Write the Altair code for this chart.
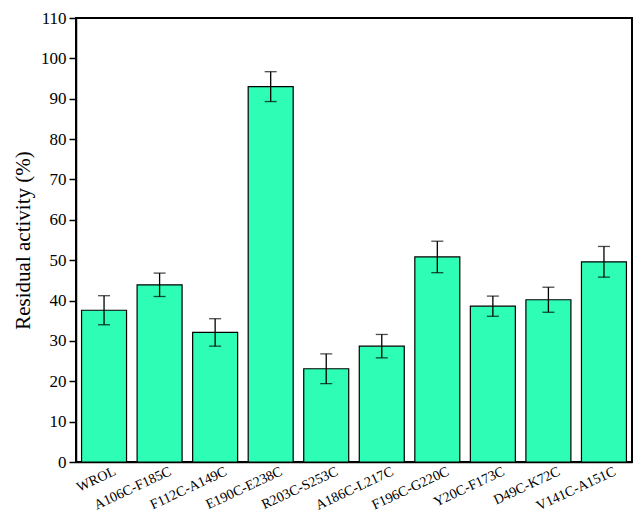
import altair as alt
import pandas as pd

categories = ["WROL", "A106C-F185C", "F112C-A149C", "E190C-E238C", "R203C-S253C",
              "A186C-L217C", "F196C-G220C", "Y20C-F173C", "D49C-K72C", "V141C-A151C"]
values = [37.6, 43.9, 32.1, 93.0, 23.1, 28.7, 50.8, 38.6, 40.2, 49.6]
errors = [3.6, 2.9, 3.4, 3.7, 3.7, 2.9, 3.9, 2.5, 3.1, 3.8]

df = pd.DataFrame({"cat": categories, "val": values, "err": errors})
df["lo"] = df["val"] - df["err"]
df["hi"] = df["val"] + df["err"]

FONT = "Liberation Serif"

x_scale = alt.Scale(paddingInner=0.19, paddingOuter=0.1)
y_scale = alt.Scale(domain=[0, 110], nice=False)

x_enc = alt.X("cat:N", sort=categories, scale=x_scale,
              axis=alt.Axis(title=None, labelAngle=-25, labelAlign="right",
                            labelBaseline="top", labelFont=FONT, labelFontSize=14,
                            labelColor="black", ticks=False, labelOffset=8,
                            labelPadding=2, domainColor="black", domainWidth=1.5))
y_axis = alt.Axis(title="Residual activity (%)", titleFont=FONT, titleFontSize=21,
                  titleFontWeight="normal", titleColor="black", titlePadding=7,
                  values=list(range(0, 111, 5)),
                  labelExpr="datum.value % 10 === 0 ? datum.label : ''",
                  tickSize={"condition": {"test": "datum.value % 10 === 0", "value": 7}, "value": 4},
                  tickColor="black", tickWidth=1.5, labelFont=FONT, labelFontSize=17,
                  labelColor="black", labelPadding=3,
                  domainColor="black", domainWidth=1.5, grid=False)

bars = alt.Chart(df).mark_bar(color="#2EFDB6", stroke="black", strokeWidth=1.2).encode(
    x=x_enc,
    y=alt.Y("val:Q", scale=y_scale, axis=y_axis),
)
rules = alt.Chart(df).mark_rule(color="black", strokeWidth=1.3).encode(
    x=alt.X("cat:N", sort=categories), y="lo:Q", y2="hi:Q")
caps_hi = alt.Chart(df).mark_tick(color="black", size=12, thickness=1.3).encode(
    x=alt.X("cat:N", sort=categories), y="hi:Q")
caps_lo = alt.Chart(df).mark_tick(color="black", size=12, thickness=1.3).encode(
    x=alt.X("cat:N", sort=categories), y="lo:Q")

chart = alt.layer(bars, rules, caps_hi, caps_lo).properties(
    width=556, height=444,
    autosize=alt.AutoSizeParams(type="none"),
    padding={"left": 68, "top": 10, "right": 3, "bottom": 53},
).configure(background="white").configure_view(stroke="black", strokeWidth=2)

chart.save("out.html", embed_options={"renderer": "svg", "actions": False})
